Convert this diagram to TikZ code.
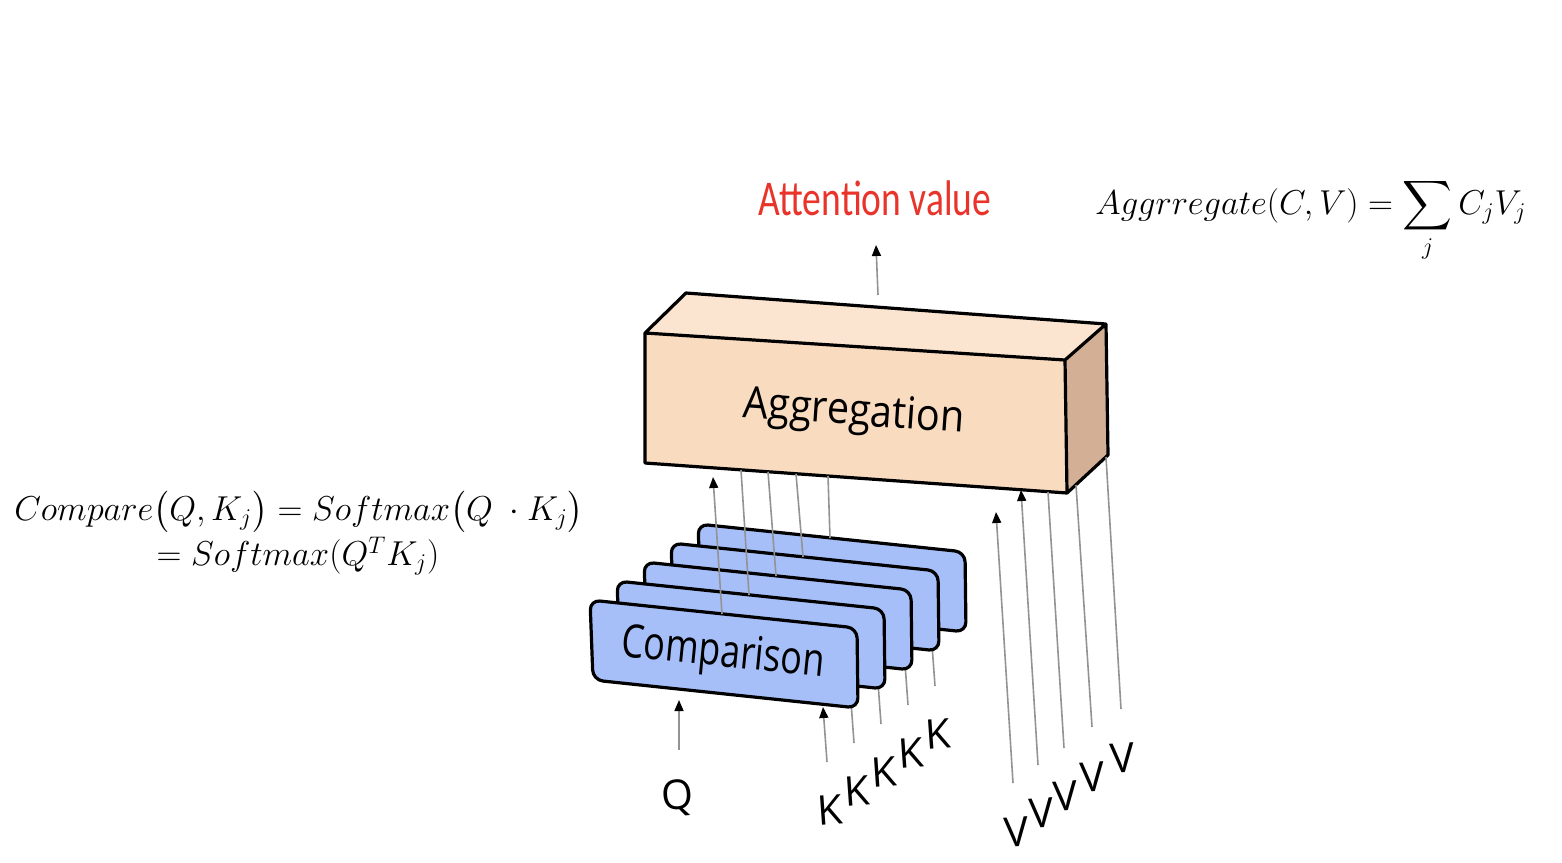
\documentclass[tikz,border=0pt]{standalone}
\usepackage{amsmath}
\usepackage{fontspec}
\setmainfont{Open Sans}
\newfontfamily\carl{Carlito}
\usetikzlibrary{arrows.meta,calc}
\definecolor{cardblue}{RGB}{166,191,248}
\definecolor{boxfront}{RGB}{249,219,191}
\definecolor{boxtop}{RGB}{251,229,208}
\definecolor{boxside}{RGB}{211,175,149}
\definecolor{attred}{RGB}{232,52,42}
\begin{document}
\begin{tikzpicture}[x=0.5pt,y=-0.5pt,
  gl/.style={draw=gray!85, line width=0.8pt},
  arr/.style={gl, -{Triangle[length=5.5pt,width=4.5pt,black]}},
  cardbox/.style={fill=cardblue, draw=black, line width=1.6pt, rounded corners=5pt, line join=round},
  edge3d/.style={draw=black, line width=1.6pt, line join=round},
  lbl/.style={font=\fontsize{20.5}{20}\selectfont, inner sep=0pt, rotate=4},
  formula/.style={inner sep=0pt, font=\fontsize{17.5}{20}\selectfont}
]
\useasboundingbox (0,0) rectangle (1562,862);

% ---------- Aggregation box ----------
\coordinate (ftl) at (645,333);
\coordinate (ftr) at (1065,360);
\coordinate (fbr) at (1067,493);
\coordinate (fbl) at (645,463);
\coordinate (btl) at (686,293);
\coordinate (btr) at (1106,324);
\coordinate (bbr) at (1108,455);
\fill[boxtop] (ftl)--(btl)--(btr)--(ftr)--cycle;
\fill[boxfront] (ftl)--(ftr)--(fbr)--(fbl)--cycle;
\fill[boxside] (ftr)--(btr)--(bbr)--(fbr)--cycle;
\draw[edge3d] (fbl)--(ftl)--(btl)--(btr)--(bbr)--(fbr)--cycle
              (ftl)--(ftr)--(fbr) (ftr)--(btr);
\node[inner sep=0pt, rotate=-4, xscale=0.9, font=\fontsize{22}{22}\selectfont] (agg) at (854,414) {Aggregation};

% ---------- Attention value ----------
\node[inner sep=0pt, text=attred, xscale=0.75, font=\carl\fontsize{25}{25}\selectfont] (att) at (875,198) {Attention value};
\coordinate (attlow) at (878,295);
\coordinate (atttip) at (876,245);
\draw[arr] (attlow) -- (atttip);

% ---------- Comparison cards (back to front) ----------
\foreach \i/\tx in {4/828,3/796,2/768,1/741,0/713}{
  \begin{scope}[shift={(27*\i,-19*\i)}]
    % K input line
    \coordinate (kb\i) at (827,762);
    \coordinate (kt\i) at (823,707);
    \node[lbl] (K\i) at (830,810) {K};
    \ifnum\i=0
      \draw[arr] (kb\i) -- (kt\i);
    \else
      \draw[gl] (kb\i) -- (kt\i);
    \fi
    % card
    \draw[cardbox] (590,600) -- (857,628) -- (858,708) -- (593,680) -- cycle;
    \coordinate (ob\i) at (722,614);
  \end{scope}
  \ifnum\i=0
    \coordinate (ot\i) at (\tx,477);
    \draw[arr] (ob\i) -- (ot\i);
  \else
    \coordinate (ot\i) at (\tx,{463+(\tx-645)*0.0711});
    \draw[gl] (ob\i) -- (ot\i);
  \fi
}
\node[inner sep=0pt, rotate=-5.7, xscale=0.78, font=\fontsize{23}{23}\selectfont] (cmp) at (723,655) {Comparison};

% ---------- Q ----------
\node[lbl] (Q) at (678,798) {Q};
\coordinate (qb) at (679,750);
\coordinate (qt) at (679,700);
\draw[arr] (qb) -- (qt);

% ---------- V inputs ----------
\foreach \n/\bx/\by/\tx/\ty/\lx/\ly in {1/1013/783/996/512/1017/832, 2/1038/765/1021/490/1042/813, 3/1064/748/1048/492/1066/796, 4/1092/727/1076/485/1093/777, 5/1121/709/1106/457/1123/758}{
  \coordinate (vb\n) at (\bx,\by);
  \coordinate (vt\n) at (\tx,\ty);
  \node[lbl] (V\n) at (\lx,\ly) {V};
  \ifnum\n<3
    \draw[arr] (vb\n) -- (vt\n);
  \else
    \draw[gl] (vb\n) -- (vt\n);
  \fi
}

% ---------- Formulas ----------
\node[formula] (f1) at (299,512) {$Compare\bigl(Q,K_j\bigr)=Softmax\bigl(Q\ \cdot K_j\bigr)$};
\node[formula] (f2) at (298,556) {$=Softmax(Q^TK_j)$};
\node[formula, anchor=base west, font=\fontsize{18}{20}\selectfont] (f3) at (1095,214) {$\displaystyle Aggrregate(C,V)=\sum_j C_jV_j$};
\end{tikzpicture}
\end{document}
